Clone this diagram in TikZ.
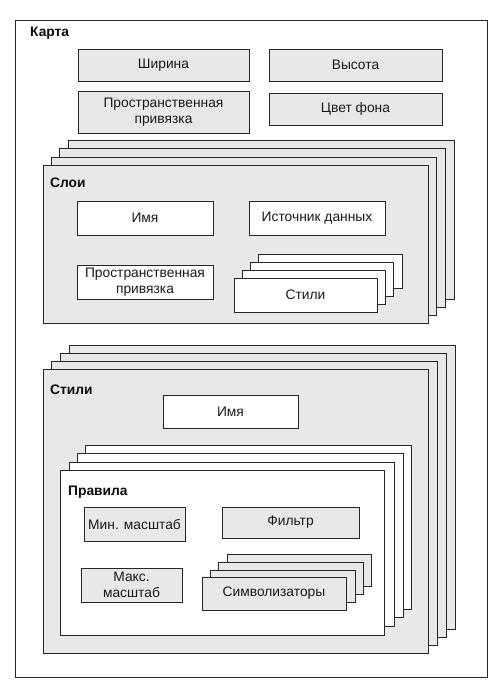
\documentclass[tikz,border=0pt]{standalone}
\usepackage{fontspec}
\setmainfont{Liberation Sans}
\newcommand\mybox[7]{%
  \node[#6,minimum width={(#4-#2)*1pt},minimum height={(#5-#3)*1pt}] (#1) at ({(#2+#4)/2},{(#3+#5)/2}) {#7};}
\begin{document}
\begin{tikzpicture}[x=1pt,y=-1pt,
  box/.style={draw=black!85, line width=0.8pt, inner sep=0pt, align=center, text=black!90,
    font=\fontsize{13.8}{15.5}\selectfont},
  gbox/.style={box, fill=black!9},
  wbox/.style={box, fill=white},
  lbl/.style={anchor=west, inner sep=0pt, text=black!95, font=\bfseries\fontsize{13.8}{15.5}\selectfont}]
\useasboundingbox[fill=white] (0,0) rectangle (496,683);
% outer frame
\mybox{map}{15}{20}{487}{677}{box,line width=1pt,fill=white}{}
\node[lbl] (mapLbl) at (30,33) {Карта};
\mybox{width}{78}{49}{249}{81}{gbox}{Ширина}
\mybox{height}{269}{49}{442}{81}{gbox}{Высота}
\mybox{mapsrs}{78}{91}{249}{133}{gbox}{Пространственная\\привязка}
\mybox{bg}{269}{93}{442}{125}{gbox}{Цвет фона}
% layers stack
\mybox{layerC}{68}{140}{454}{299}{gbox}{}
\mybox{layerB}{59}{148}{445}{307}{gbox}{}
\mybox{layerA}{51}{157}{436}{315}{gbox}{}
\mybox{layer}{43}{165}{428}{323}{gbox}{}
\node[lbl] (layerLbl) at (50,183) {Слои};
\mybox{lname}{77}{201}{213}{235}{wbox}{Имя}
\mybox{lsrc}{249}{201}{385}{235}{wbox}{Источник данных}
\mybox{lsrs}{77}{265}{213}{299}{wbox}{Пространственная\\привязка}
\mybox{lstyC}{258}{254}{402}{288}{wbox}{}
\mybox{lstyB}{250}{262}{393}{296}{wbox}{}
\mybox{lstyA}{242}{270}{385}{304}{wbox}{}
\mybox{lsty}{234}{278}{377}{312}{wbox}{Стили}
% styles stack
\mybox{styleC}{69}{345}{455}{629}{gbox}{}
\mybox{styleB}{60}{353}{446}{637}{gbox}{}
\mybox{styleA}{51}{361}{437}{645}{gbox}{}
\mybox{style}{43}{369}{428}{653}{gbox}{}
\node[lbl] (styleLbl) at (50,390) {Стили};
\mybox{sname}{163}{395}{298}{428}{wbox}{Имя}
% rules stack
\mybox{ruleC}{85}{445}{411}{609}{wbox}{}
\mybox{ruleB}{77}{453}{403}{617}{wbox}{}
\mybox{ruleA}{69}{462}{394}{626}{wbox}{}
\mybox{rule}{60}{470}{384}{635}{wbox}{}
\node[lbl] (ruleLbl) at (68,492) {Правила};
\mybox{minsc}{84}{507}{185}{541}{gbox}{Мин. масштаб}
\mybox{filter}{222}{507}{359}{538}{gbox}{Фильтр}
\mybox{maxsc}{81}{568}{182}{602}{gbox}{Макс.\\масштаб}
\mybox{symC}{227}{554}{371}{586}{gbox}{}
\mybox{symB}{218}{562}{363}{594}{gbox}{}
\mybox{symA}{210}{570}{355}{602}{gbox}{}
\mybox{sym}{202}{577}{346}{610}{gbox}{Символизаторы}
\end{tikzpicture}
\end{document}
